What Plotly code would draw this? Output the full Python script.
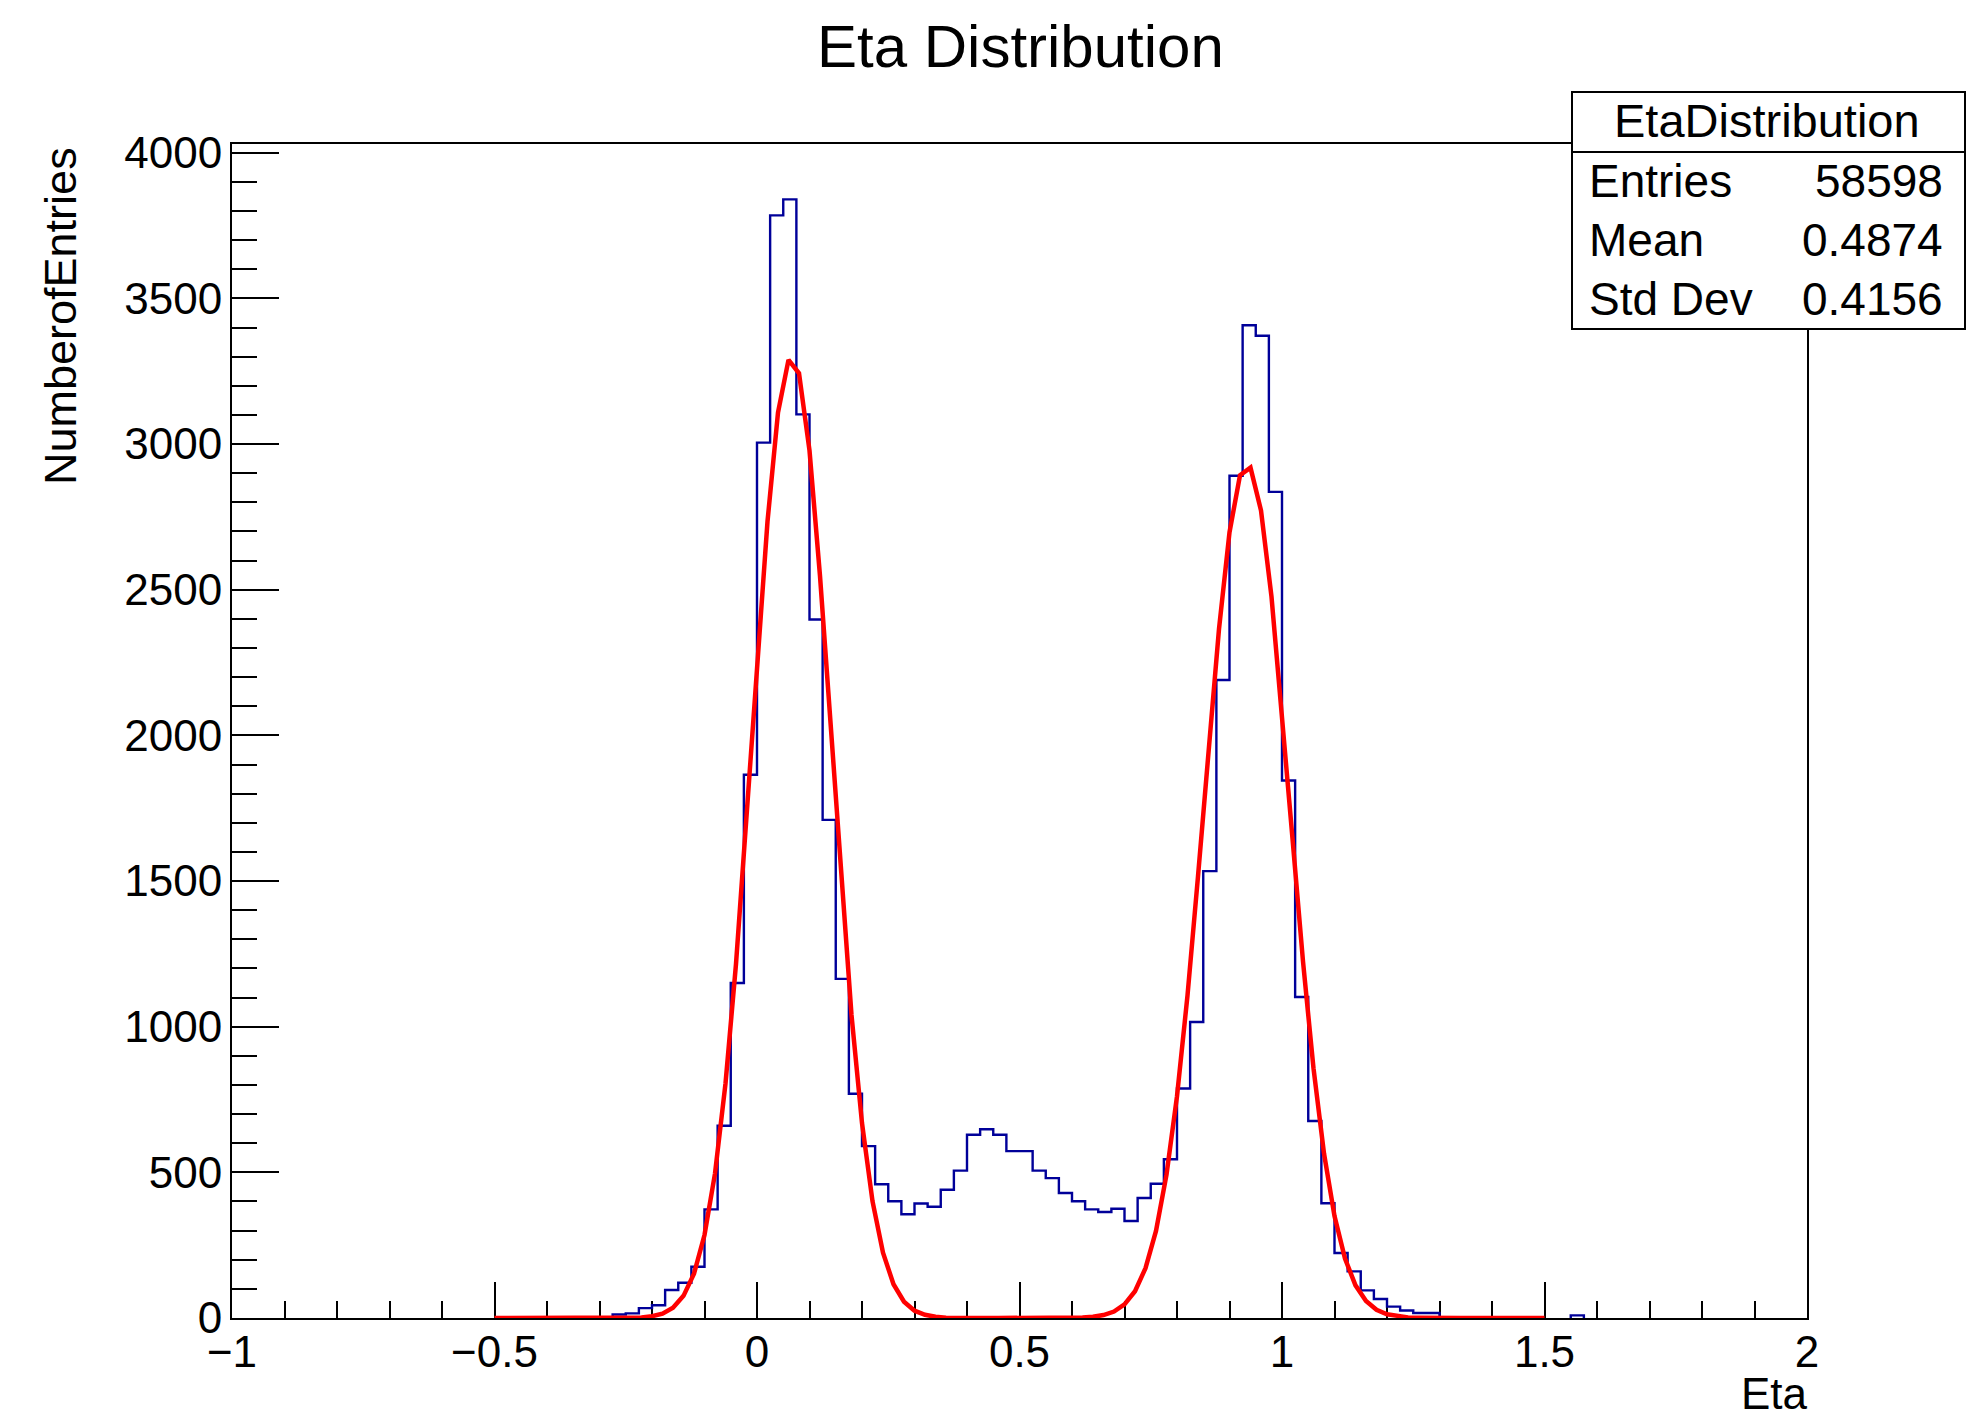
import plotly.graph_objects as go

# ---------------- data ----------------
first_bin_left = -0.275
bin_width = 0.025
counts = [
    12, 16, 34, 44, 96, 121, 176, 373, 660, 1150, 1865,          # -0.275 .. -0.025
    3005, 3785, 3840, 3102, 2398, 1710, 1164, 770,               # 0.000 .. 0.175
    590, 459, 401, 356, 393, 382, 440, 506, 629, 648, 629,       # 0.200 .. 0.450
    573, 573, 506, 480, 429, 401, 373, 364, 375, 333, 412,       # 0.475 .. 0.725
    461, 545, 788, 1016, 1534, 2190, 2891, 3408, 3372, 2836,     # 0.750 .. 0.975
    1845, 1102, 676, 394, 223, 160, 95, 65, 39, 26, 17, 17,      # 1.000 .. 1.275
    0, 0, 0, 0, 0, 0, 0, 0, 0, 0, 9, 0                           # 1.300 .. 1.575
]

fit_x_start = -0.5
fit_step = 0.02
fit_values = [
    0, 0, 0, 0, 0, 0, 0, 0, 0, 0, 0, 0, 0,                       # -0.50 .. -0.26
    1, 2, 6, 15, 35, 76, 152, 285, 496, 805, 1215, 1710,         # -0.24 .. -0.02
    2241, 2734, 3108, 3289, 3243, 2978, 2547, 2028, 1504, 1040,  # 0.00 .. 0.18
    669, 401, 224, 116, 56, 25, 11, 4, 1,                        # 0.20 .. 0.36
    0, 0, 0, 0, 0, 0, 0, 0, 0, 0, 0,                             # 0.38 .. 0.58
    1, 2, 4, 10, 22, 47, 92, 171, 299, 492,                      # 0.60 .. 0.78
    761, 1107, 1516, 1952, 2365, 2697, 2893, 2919, 2772, 2476,   # 0.80 .. 0.98
    2081, 1646, 1224, 857, 565, 350, 204, 112, 58, 28,           # 1.00 .. 1.18
    13, 6, 2, 1,                                                 # 1.20 .. 1.26
    0, 0, 0, 0, 0, 0, 0, 0, 0, 0, 0, 0                           # 1.28 .. 1.50
]

x_range = [-1, 2]
y_range = [0, 4030]
chart_title = "Eta Distribution"
x_title = "Eta"
y_title = "NumberofEntries"
stats_name = "EtaDistribution"
stats_labels = ["Entries", "Mean", "Std Dev"]
stats_values = ["58598", "0.4874", "0.4156"]

# ---------------- build histogram outline ----------------
hx, hy = [], []
in_run = False
for i, c in enumerate(counts):
    lo = first_bin_left + i * bin_width
    hi = lo + bin_width
    if c > 0:
        if not in_run:
            hx.append(lo); hy.append(0)
            in_run = True
        hx += [lo, hi]; hy += [c, c]
    elif in_run:
        hx.append(lo); hy.append(0)
        hx.append(None); hy.append(None)
        in_run = False
if in_run:
    hx.append(first_bin_left + len(counts) * bin_width); hy.append(0)

fit_x = [round(fit_x_start + k * fit_step, 4) for k in range(len(fit_values))]

# ---------------- figure ----------------
L, R, T, B = 232, 1807, 144, 1318
W, H = 1983, 1421


def px_x(px):
    return (px - L) / (R - L)


def px_y(py):
    return (B - py) / (B - T)


FONT = "Liberation Sans, Arial, Helvetica, sans-serif"

fig = go.Figure()
fig.add_trace(go.Scatter(x=hx, y=hy, mode="lines",
                         line=dict(color="#000099", width=2.4),
                         hoverinfo="skip", showlegend=False))
fig.add_trace(go.Scatter(x=fit_x, y=fit_values, mode="lines",
                         line=dict(color="#ff0000", width=4.5),
                         hoverinfo="skip", showlegend=False))

fig.update_layout(
    width=W, height=H,
    margin=dict(l=L, r=W - R, t=T, b=H - B, pad=0),
    paper_bgcolor="white", plot_bgcolor="white",
    font=dict(family=FONT, color="black"),
    showlegend=False,
    xaxis=dict(
        range=x_range, tickmode="linear", tick0=0, dtick=0.5,
        showline=True, linecolor="black", linewidth=2, mirror=True,
        ticks="inside", ticklen=36, tickwidth=2, tickcolor="black",
        showgrid=False, zeroline=False, layer="below traces",
        tickfont=dict(size=44, family=FONT, color="black"),
        ticklabelstandoff=-6,
        minor=dict(dtick=0.1, tick0=0, ticks="inside", ticklen=17,
                   tickwidth=2, tickcolor="black", showgrid=False),
    ),
    yaxis=dict(
        range=y_range, tickmode="linear", tick0=0, dtick=500,
        showline=True, linecolor="black", linewidth=2, mirror=True,
        ticks="inside", ticklen=47, tickwidth=2, tickcolor="black",
        showgrid=False, zeroline=False, layer="below traces",
        tickfont=dict(size=44, family=FONT, color="black"),
        ticklabelstandoff=-1,
        minor=dict(dtick=100, tick0=0, ticks="inside", ticklen=25,
                   tickwidth=2, tickcolor="black", showgrid=False),
    ),
)

annotations = [
    dict(text=chart_title, x=px_x(1020.5), y=px_y(46), xanchor="center",
         yanchor="middle", font=dict(size=60, family=FONT, color="black")),
    dict(text=y_title, x=px_x(61), y=px_y(145), xanchor="center",
         yanchor="top", textangle=-90,
         font=dict(size=45, family=FONT, color="black")),
    dict(text=x_title, x=px_x(1810), y=px_y(1420), xanchor="right",
         yanchor="bottom", font=dict(size=44, family=FONT, color="black")),
    dict(text=stats_name, x=px_x(1767), y=px_y(121), xanchor="center",
         yanchor="middle", font=dict(size=47, family=FONT, color="black")),
]
row_y = [181, 240, 299]
for lab, val, ry in zip(stats_labels, stats_values, row_y):
    annotations.append(dict(text=lab, x=px_x(1587), y=px_y(ry), xanchor="left",
                            yanchor="middle",
                            font=dict(size=46, family=FONT, color="black")))
    annotations.append(dict(text=val, x=px_x(1945), y=px_y(ry), xanchor="right",
                            yanchor="middle",
                            font=dict(size=46, family=FONT, color="black")))
for a in annotations:
    a.update(xref="paper", yref="paper", showarrow=False)
fig.update_layout(annotations=annotations)

fig.add_shape(type="rect", xref="paper", yref="paper",
              x0=px_x(1572), x1=px_x(1965), y0=px_y(329), y1=px_y(92),
              line=dict(color="black", width=2), fillcolor="white", layer="above")
fig.add_shape(type="line", xref="paper", yref="paper",
              x0=px_x(1572), x1=px_x(1965), y0=px_y(152), y1=px_y(152),
              line=dict(color="black", width=2), layer="above")

fig.write_html("out.html")
